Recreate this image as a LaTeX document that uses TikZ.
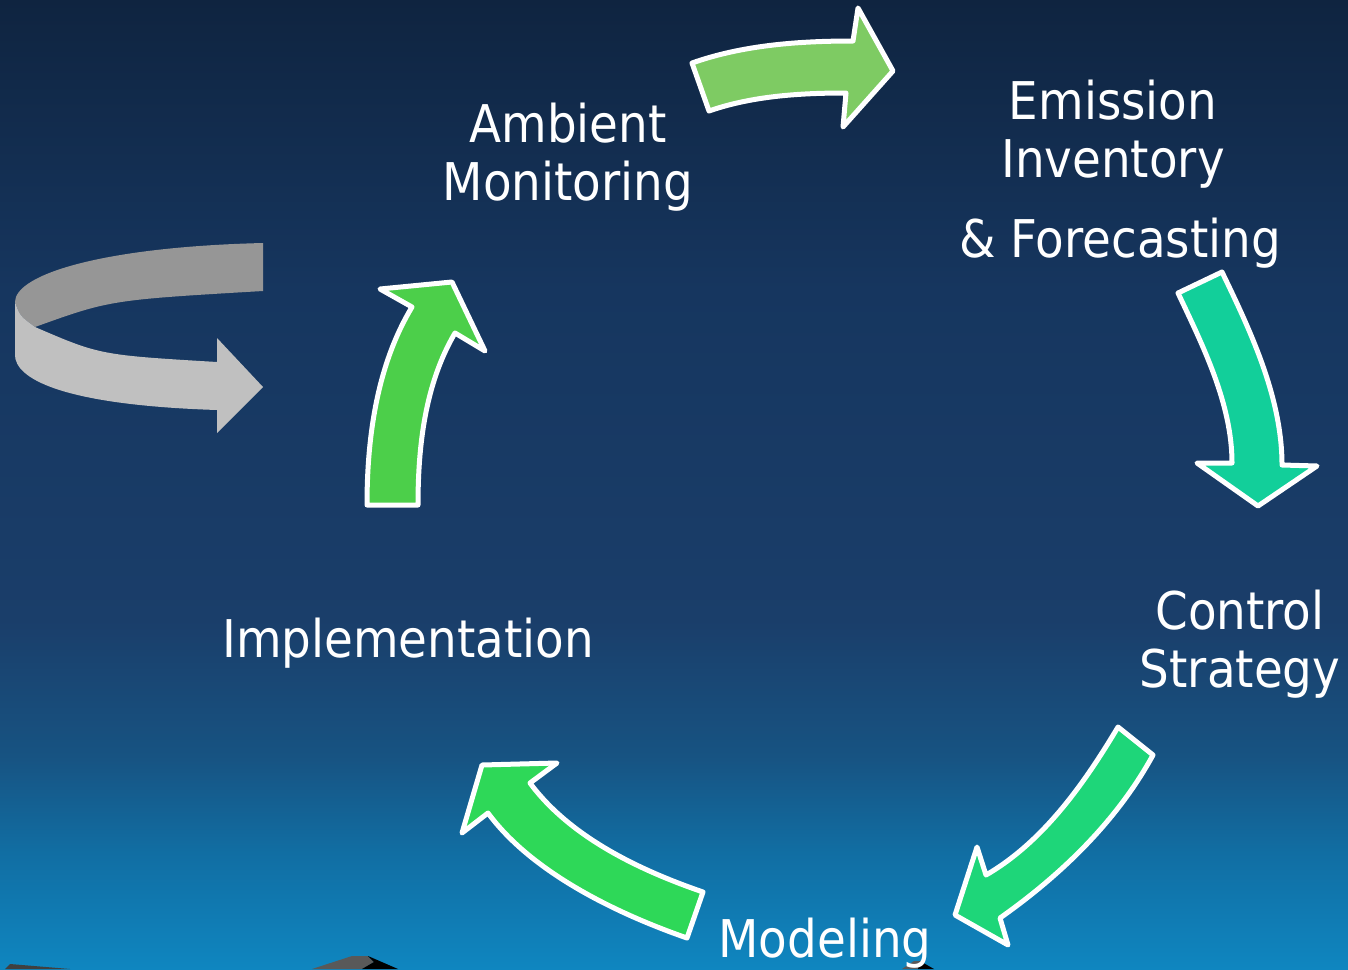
\documentclass[tikz,border=0pt]{standalone}
\usepackage{fontspec}
\setmainfont{DejaVu Sans Condensed}
\usepackage{tikz}
\usetikzlibrary{calc}

\definecolor{bgA}{HTML}{0F2440}
\definecolor{bgB}{HTML}{16365F}
\definecolor{bgC}{HTML}{1A3E6A}
\definecolor{bgD}{HTML}{175382}
\definecolor{bgE}{HTML}{116EA3}
\definecolor{bgF}{HTML}{0F86C0}
\definecolor{arrA}{HTML}{7ECB63}
\definecolor{arrB}{HTML}{12CF9A}
\definecolor{arrC}{HTML}{1ED679}
\definecolor{arrD}{HTML}{2ED858}
\definecolor{arrE}{HTML}{4CCF4A}
\definecolor{backgray}{HTML}{969696}
\definecolor{frontgray}{HTML}{C0C0C0}

\pgfdeclareverticalshading{bgshade}{100bp}{color(0bp)=(bgF); color(25bp)=(bgF);
	color(31bp)=(bgE); color(36bp)=(bgD); color(43bp)=(bgC); color(60bp)=(bgB);
	color(75bp)=(bgA); color(100bp)=(bgA)}

\newcommand{\lblfont}{\fontsize{26pt}{29pt}\selectfont}

\tikzset{blockarrow/.style={draw=white,line width=2.5pt,line join=round},
	lbl/.style={text=white,font=\lblfont,align=center,anchor=base,inner sep=0pt}}

\begin{document}
\begin{tikzpicture}[x=0.5pt,y=-0.5pt]
\useasboundingbox (0,0) rectangle (1348,969);
\fill[shading=bgshade] (0,0) rectangle (1348,969);

% bouts d'images en bas
\fill[black!75] (5,969) -- (10,964) -- (70,969) -- cycle;
\fill[black!65] (312,969) -- (352,956) -- (368,956) -- (374,962) -- (362,969) -- cycle;
\fill[black] (368,956) -- (398,969) -- (362,969) -- (374,962) -- cycle;
\fill[black!65] (902,969) -- (914,961) -- (922,961) -- (918,969) -- cycle;
\fill[black] (920,961) -- (934,969) -- (918,969) -- cycle;

% fleche grise a gauche
\fill[backgray] (263,243) .. controls (100,247) and (15,275) .. (15,302)
	.. controls (20,316) .. (35,327) .. controls (110,300) .. (263,291) -- cycle;
\fill[frontgray] (15,302) .. controls (20,316) .. (35,327)
	.. controls (100,355) .. (217,362) -- (217,338) -- (263,387) -- (217,433) -- (217,410)
	.. controls (60,405) and (15,378) .. (15,355) -- cycle;

% le cycle
\filldraw[blockarrow,fill=arrA] (692,63) .. controls (743,45) and (799,41) .. (853,41) -- (858,8)
	-- (893,71) -- (843,127) -- (846,93) .. controls (800,93) and (752,96) .. (709,111) -- cycle;
\filldraw[blockarrow,fill=arrB] (1178,293) -- (1222,272) .. controls (1251,332) and (1282,398) .. (1282,465)
	-- (1317,466) -- (1258,506) -- (1197,463) -- (1232,463) .. controls (1232,404) and (1203,346) .. (1178,293) -- cycle;
\filldraw[blockarrow,fill=arrC] (1118,727) -- (1153,755) .. controls (1117,821) and (1061,875) .. (1000,918)
	-- (1008,945) -- (955,915) -- (977,847) -- (986,875) .. controls (1043,842) and (1084,784) .. (1118,727) -- cycle;
\filldraw[blockarrow,fill=arrD] (703,892) -- (687,938) .. controls (618,914) and (532,873) .. (488,813)
	-- (462,833) -- (482,765) -- (557,763) -- (530,783) .. controls (570,837) and (639,870) .. (703,892) -- cycle;
\filldraw[blockarrow,fill=arrE] (367,505) -- (418,505) .. controls (418,446) and (425,384) .. (455,333)
	-- (485,351) -- (452,282) -- (380,289) -- (412,307) .. controls (377,365) and (367,437) .. (367,505) -- cycle;

%\node[lbl] at (568,142) {Ambient};
\node[lbl] (amb) at (568,200) {Ambient\\Monitoring};
\node[lbl] (emis) at (1113,177) {Emission\\Inventory};
\node[lbl] (fcst) at (1120,257) {\& Forecasting};
\node[lbl] (ctrl) at (1240,687) {Control\\Strategy};
\node[lbl] (modl) at (825,957) {Modeling};
\node[lbl] (impl) at (408,657) {Implementation};
\end{tikzpicture}
\end{document}
